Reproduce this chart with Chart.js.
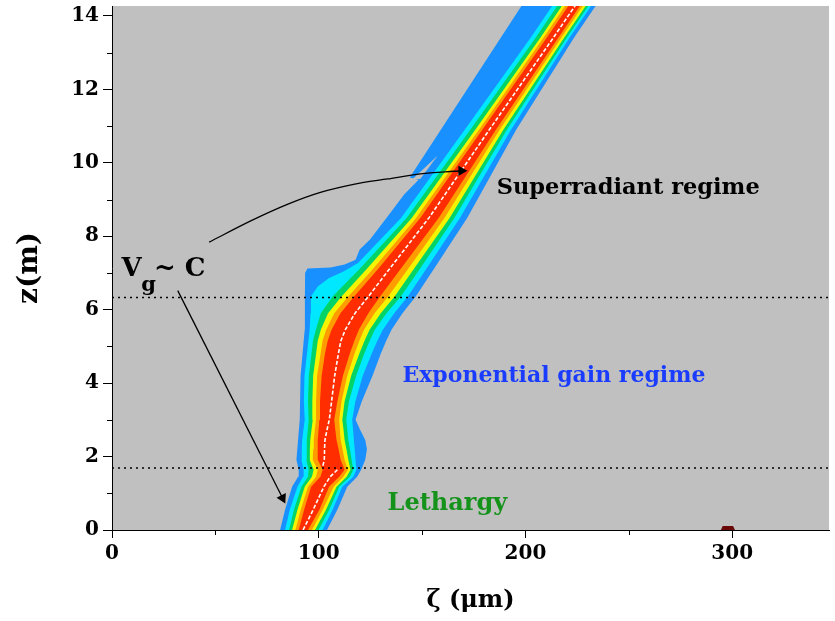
<!DOCTYPE html>
<html><head><meta charset="utf-8">
<style>html,body{margin:0;padding:0;background:#fff}</style>
<script src="https://cdn.jsdelivr.net/npm/chart.js@4.4.0/dist/chart.umd.min.js"></script>
</head><body>
<canvas id="c" width="835" height="621"></canvas>
<script>
// ---------------- data (ζ in μm, z in m) ----------------
const zGrid = [0,0.55,1.18,1.45,1.64,1.91,2.2,2.45,2.73,3.0,3.5,4.2,4.8,5.15,5.45,5.9,6.36,7.1,8.5,10.9,13.4,14.32];

const blueLeftZ = [0,0.55,1.18,1.45,1.64,1.91,2.45,3.0,4.2,5.45,6.36,7.0,7.12,7.15,7.23,7.36,7.64,7.91,8.54,9.14,9.54,9.6,14.32];
const blueLeft  = [81.3,83.7,87.1,90.0,90.3,89.2,90.0,90.8,91.2,93.2,93.3,93.4,94.5,105.7,112.5,117.8,119.8,124.8,133.3,141.3,148.3,144.0,198.6];
const blueRight = [104.0,109.0,113.8,118.6,120.5,122.5,123.3,122.5,120.0,117.8,120.8,126.0,130.0,132.6,135.2,140.5,146.9,155.6,171.8,195.5,223.4,234.5];

const cyanLeftZ = [0,0.55,1.18,1.45,1.64,1.91,2.2,2.45,2.73,3.0,3.5,4.2,4.8,5.45,5.9,6.36,6.63,6.86,7.04,7.27,8.5,10.9,13.4,14.32];
const cyanLeft  = [83.7,86.0,89.7,92.4,92.7,91.6,91.8,92.0,92.6,93.2,92.8,93.1,94.3,95.6,96.0,96.2,99.5,105.0,112.0,119.0,139.8,170.6,202.4,213.5];
const cyanRight = [101.9,106.7,111.4,116.7,118.2,117.8,117.4,117.0,116.6,116.2,117.7,121.3,125.6,128.3,131.0,136.5,143.1,151.9,168.3,193.0,221.2,232.3];

const greenLeft  = [85.6,88.0,91.6,94.8,95.1,94.0,94.1,94.3,94.7,95.1,94.8,95.2,96.5,97.2,98.6,101.0,106.7,119.6,142.5,173.3,204.8,215.9];
const greenRight = [99.9,105.1,109.9,115.1,116.7,115.9,115.1,114.3,113.8,113.3,114.6,118.1,122.0,124.6,127.1,132.8,139.7,148.8,165.6,191.0,219.9,231.0];

const yellowLeft  = [87.1,89.7,93.2,96.7,97.5,95.6,95.7,95.9,96.5,97.1,96.9,97.3,98.7,99.5,101.0,104.5,111.0,123.1,145.0,175.7,207.1,218.2];
const yellowRight = [98.2,103.5,108.6,113.5,115.4,114.3,113.4,112.5,112.0,111.4,112.5,115.7,119.6,122.1,124.6,130.0,136.7,145.9,163.3,189.3,218.6,229.7];

const orangeLeft  = [88.7,91.3,94.8,98.7,99.5,97.1,97.3,97.6,98.1,98.7,98.7,99.2,100.9,101.8,103.6,107.5,114.3,126.1,147.1,177.5,208.6,219.7];
const orangeRight = [96.7,101.9,107.2,111.9,114.1,112.5,111.5,110.6,110.2,109.9,111.0,113.8,117.3,119.6,121.9,127.0,133.6,143.1,160.8,187.5,217.2,228.3];

const redLeft  = [90.3,92.9,96.3,100.8,101.9,99.5,99.5,99.5,99.9,100.3,100.6,101.4,103.0,104.3,106.2,110.5,117.1,128.6,149.1,179.1,210.2,221.3];
const redRight = [94.8,100.3,105.0,109.9,112.5,110.6,109.6,108.6,108.0,107.5,109.0,111.7,115.0,117.2,119.4,124.0,129.7,139.5,158.0,185.7,215.8,226.9];

const ridgeZ = [0,0.55,1.18,1.45,1.64,1.70,1.75,1.91,2.2,2.45,2.73,3.0,3.5,4.2,4.8,5.15,5.45,5.9,6.36,7.1,8.5,10.9,13.4,14.32];
const ridgeX = [92.4,97.3,102.5,105.5,109.0,null,102.0,102.7,102.8,103.0,104.0,105.1,106.2,107.7,109.5,110.7,112.8,117.5,124.0,134.1,153.3,182.5,213.4,224.5];

const notchZ = [9.55,10.2];
const notchLeft = [145.3,157.6];
const notchRight = [149.0,157.6];

const blobZ = [0,0.11];
const blobLeft = [294.5,295.4];
const blobRight = [301.3,300.4];

const regimeBoundaries = [6.33,1.69];

const xTicks = [0,100,200,300];
const yTicks = [0,2,4,6,8,10,12,14];
const xMinorTicks = [50,150,250];
const yMinorTicks = [1,3,5,7,9,11,13];

const labels = [
  {text:'Superradiant regime', x:186.1, z:9.32, color:'#000000', size:22.5},
  {text:'Exponential gain regime', x:140.5, z:4.19, color:'#1a3cff', size:22},
  {text:'Lethargy', x:133.3, z:0.72, color:'#14921a', size:24}
];
const arrowCurveZ = [7.84,8.43,8.88,9.20,9.42,9.56,9.70,9.77,9.78];
const arrowCurveX = [47.0,67.6,85.4,101.2,117.4,133.3,149.3,165.3,169.0];
const arrowLineZ = [0.87,6.52];
const arrowLineX = [82.5,31.8];

// ---------------- build ----------------
const pts = (zs, xs) => zs.map((z,i)=>({x: xs[i] === null ? null : xs[i], y: z}));
const base = {indexAxis:'y', pointRadius:0, borderWidth:0, tension:0};
const datasets = [];
function band(zl, xl, zr, xr, color, order){
  datasets.push(Object.assign({}, base, {data: pts(zl,xl), fill:{target:'+1'}, backgroundColor: color, borderColor: color, order}));
  datasets.push(Object.assign({}, base, {data: pts(zr,xr), fill:false, borderColor: color, order}));
}
band(blueLeftZ, blueLeft, zGrid, blueRight, '#1890ff', 100);
band(notchZ, notchLeft, notchZ, notchRight, '#c0c0c0', 95);
band(cyanLeftZ, cyanLeft, zGrid, cyanRight, '#00e8ff', 90);
band(zGrid, greenLeft, zGrid, greenRight, '#00d466', 80);
band(zGrid, yellowLeft, zGrid, yellowRight, '#f4f400', 70);
band(zGrid, orangeLeft, zGrid, orangeRight, '#ff9c00', 60);
band(zGrid, redLeft, zGrid, redRight, '#ff2d00', 50);
band(blobZ, blobLeft, blobZ, blobRight, '#6a0808', 40);
datasets.push(Object.assign({}, base, {data: pts(ridgeZ, ridgeX), borderColor:'#ffffff', borderWidth:1.6, borderDash:[4,2], fill:false, spanGaps:false, order:10}));
regimeBoundaries.forEach(zb => datasets.push(Object.assign({}, base, {data:[{x:0,y:zb},{x:346.8,y:zb}], borderColor:'#000', borderWidth:1.6, borderDash:[2,4], fill:false, order:5})));
datasets.push(Object.assign({}, base, {data: pts(arrowCurveZ, arrowCurveX), borderColor:'#000', borderWidth:1.3, tension:0.3, fill:false, order:1,
  pointRadius: arrowCurveZ.map((z,i)=> i===arrowCurveZ.length-1 ? 6 : 0), pointStyle:'triangle', pointRotation:90, pointBackgroundColor:'#000', pointBorderColor:'#000', pointBorderWidth:0}));
datasets.push(Object.assign({}, base, {data: pts(arrowLineZ, arrowLineX), borderColor:'#000', borderWidth:1.3, fill:false, order:1,
  pointRadius:[6,0], pointStyle:'triangle', pointRotation:153, pointBackgroundColor:'#000', pointBorderColor:'#000', pointBorderWidth:0}));

const FONT = 'DejaVu Serif';
const bgPlugin = {id:'bg', beforeDraw(chart){const {ctx, chartArea:a} = chart; ctx.save(); ctx.fillStyle='#fff'; ctx.fillRect(0,0,chart.width,chart.height); ctx.fillStyle='#c0c0c0'; ctx.fillRect(a.left,a.top,a.right-a.left,a.bottom-a.top); ctx.restore();}};
const minorPlugin = {id:'minor', afterDraw(chart){const {ctx, chartArea:a, scales:{x,y}} = chart; ctx.save(); ctx.strokeStyle='#000'; ctx.lineWidth=1;
  yMinorTicks.forEach(v=>{const p=Math.round(y.getPixelForValue(v))+0.5; ctx.beginPath(); ctx.moveTo(a.left-5,p); ctx.lineTo(a.left,p); ctx.stroke();});
  xMinorTicks.forEach(v=>{const p=Math.round(x.getPixelForValue(v))+0.5; ctx.beginPath(); ctx.moveTo(p,a.bottom); ctx.lineTo(p,a.bottom+5); ctx.stroke();});
  ctx.restore();}};
const textPlugin = {id:'texts', afterDatasetsDraw(chart){const {ctx, scales:{x,y}} = chart; ctx.save(); ctx.textBaseline='middle'; ctx.textAlign='left';
  labels.forEach(l=>{ctx.font = 'bold '+l.size+'px "'+FONT+'"'; ctx.fillStyle=l.color; ctx.fillText(l.text, x.getPixelForValue(l.x), y.getPixelForValue(l.z));});
  ctx.fillStyle='#000'; ctx.textBaseline='alphabetic';
  ctx.font = 'bold 26px "'+FONT+'"';
  ctx.fillText('V', x.getPixelForValue(4.6), y.getPixelForValue(6.93));
  ctx.fillText('~ C', x.getPixelForValue(20.3), y.getPixelForValue(6.93));
  ctx.font = 'bold 21px "'+FONT+'"';
  ctx.fillText('g', x.getPixelForValue(14.2), y.getPixelForValue(6.50));
  ctx.restore();}};

const tickFont = {family: FONT, weight:'bold', size:20};
new Chart(document.getElementById('c'), {
  type:'line',
  data:{datasets},
  options:{
    responsive:false, animation:false, events:[], indexAxis:'y',
    layout:{padding:{top:5,right:0,left:0,bottom:0}},
    plugins:{legend:{display:false}, tooltip:{enabled:false}},
    scales:{
      x:{type:'linear', position:'bottom', min:0, max:346.8,
        afterFit(s){s.height=91; s.paddingLeft=0; s.paddingRight=0;},
        afterBuildTicks(s){s.ticks = xTicks.map(v=>({value:v}));},
        border:{display:true,color:'#000',width:1},
        grid:{display:true, drawOnChartArea:false, drawTicks:true, tickLength:8, color:'#000'},
        ticks:{color:'#000', font:tickFont, padding:4, maxRotation:0, autoSkip:false},
        title:{display:true, text:'ζ (μm)', color:'#000', font:{family:FONT, weight:'bold', size:24}, padding:{top:0,bottom:6}}},
      y:{type:'linear', position:'left', min:0, max:14.27,
        afterFit(s){s.width=112; s.paddingTop=0; s.paddingBottom=0;},
        afterBuildTicks(s){s.ticks = yTicks.map(v=>({value:v}));},
        border:{display:true,color:'#000',width:1},
        grid:{display:true, drawOnChartArea:false, drawTicks:true, tickLength:9, color:'#000'},
        ticks:{color:'#000', font:tickFont, padding:4, autoSkip:false},
        title:{display:true, text:'z(m)', color:'#000', font:{family:FONT, weight:'bold', size:28}, padding:{top:13,bottom:0}}}
    }
  },
  plugins:[bgPlugin, minorPlugin, textPlugin]
});
</script>
</body></html>
